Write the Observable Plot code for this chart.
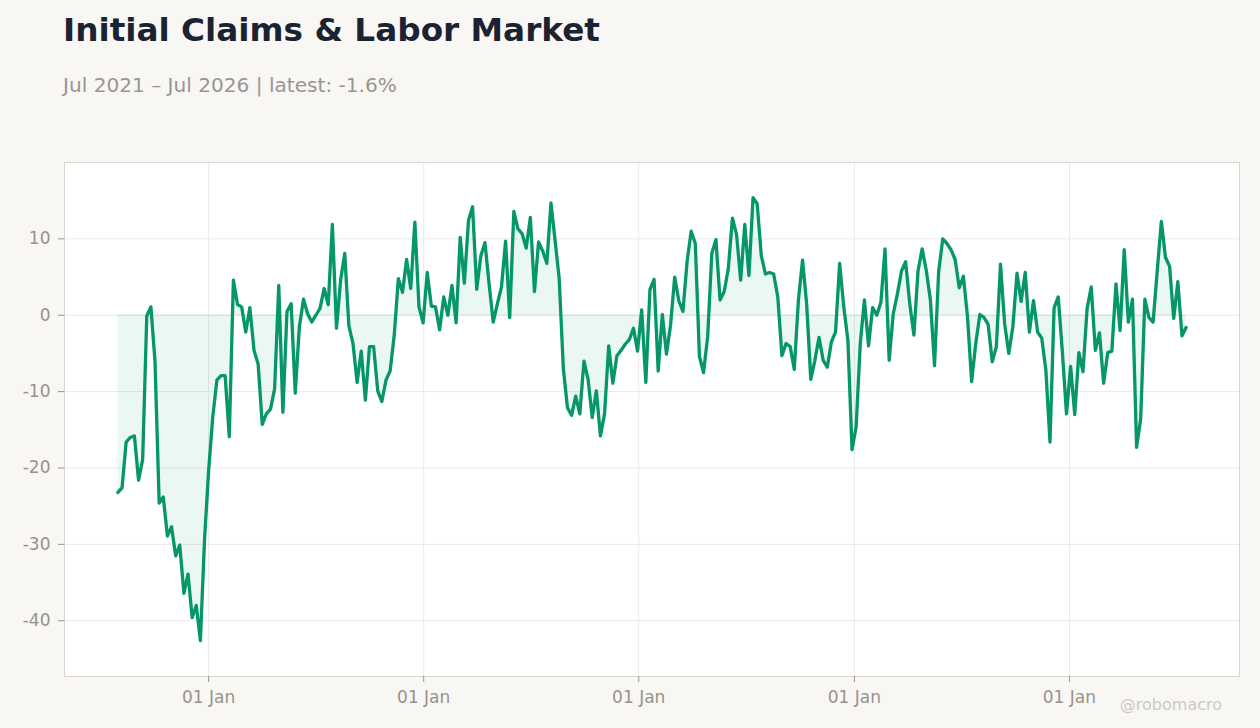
<!DOCTYPE html>
<html>
<head>
<meta charset="utf-8">
<script src="https://cdn.jsdelivr.net/npm/d3@7"></script>
<script src="https://cdn.jsdelivr.net/npm/@observablehq/plot@0.6"></script>
<style>
  html, body { margin: 0; padding: 0; background: #f8f7f4; overflow: hidden; }
  body { width: 1260px; height: 728px; position: relative; font-family: "DejaVu Sans", sans-serif; }
  #title { position: absolute; left: 63px; top: 11px; font-size: 32.7px; font-weight: bold; color: #1b2333; line-height: 39px; white-space: nowrap; }
  #subtitle { position: absolute; left: 63px; top: 73px; font-size: 20.1px; color: #9a958f; line-height: 24px; white-space: nowrap; }
  #chart { position: absolute; left: 0; top: 110px; }
  #credit { position: absolute; right: 38px; top: 695px; font-size: 16px; color: #cdc9c3; line-height: 19px; white-space: nowrap; }
</style>
</head>
<body>
<div id="title">Initial Claims &amp; Labor Market</div>
<div id="subtitle">Jul 2021 – Jul 2026 | latest: -1.6%</div>
<div id="chart"></div>
<div id="credit">@robomacro</div>
<script>
// Weekly series (YoY % change), first week ending 2021-07-31
const startDate = "2021-07-31";
const changePart1 = [-23.2, -22.6, -16.6, -16.0, -15.8, -21.6, -18.9, -0.1, 1.1, -6.1, -24.6, -23.8, -28.9, -27.7, -31.5, -30.1, -36.4, -33.9, -39.6, -38.0, -42.6, -29.4, -20.3, -13.3, -8.5, -7.9, -7.9, -15.9, 4.6, 1.4, 1.1, -2.2, 1.0, -4.6, -6.4, -14.3, -12.9, -12.3, -9.6, 3.9, -12.7, 0.5, 1.5];
const changePart2 = [-10.2, -1.5, 2.1, 0.2, -0.9, 0.0, 0.9, 3.5, 1.4, 11.9, -1.7, 4.6, 8.1, -1.4, -3.7, -8.8, -4.7, -11.1, -4.1, -4.1, -9.9, -11.3, -8.5, -7.3, -2.6, 4.8, 3.0, 7.3, 3.5, 12.2, 1.1, -1.0, 5.6, 1.2, 1.1, -1.9, 2.4, 0.0, 3.9, -1.0, 10.2, 4.2, 12.4];
const changePart3 = [14.2, 3.4, 7.8, 9.5, 4.1, -0.9, 1.5, 3.7, 9.7, -0.3, 13.6, 11.3, 10.7, 8.8, 12.8, 3.1, 9.6, 8.4, 6.8, 14.7, 9.8, 4.8, -7.0, -12.1, -13.1, -10.6, -12.9, -6.0, -8.4, -13.4, -9.9, -15.8, -12.9, -4.0, -8.9, -5.3, -4.6, -3.8, -3.2, -1.7, -4.7, 0.7, -8.8, 3.4];
const changePart4 = [4.7, -7.3, 0.1, -5.1, -1.3, 5.0, 1.9, 0.5, 7.0, 11.0, 9.4, -5.4, -7.5, -2.8, 8.1, 9.9, 2.0, 3.1, 6.1, 12.7, 10.6, 4.6, 11.9, 5.2, 15.4, 14.6, 7.8, 5.4, 5.6, 5.4, 2.4, -5.3, -3.7, -4.1, -7.1, 2.0, 7.2, 1.5, -8.4, -5.9, -2.9, -5.9, -6.8];
const changePart5 = [-3.5, -2.2, 6.8, 1.1, -3.3, -17.6, -14.6, -3.7, 2.0, -4.0, 1.0, 0.0, 1.7, 8.7, -5.9, 0.2, 2.8, 5.8, 7.0, 1.5, -2.6, 5.8, 8.7, 5.9, 2.0, -6.6, 5.7, 10.0, 9.4, 8.6, 7.3, 3.6, 5.1, -0.2, -8.7, -3.7, 0.1, -0.3, -1.2, -6.1, -4.1, 6.7, -1.1, -5.0];
const changePart6 = [-1.5, 5.5, 1.8, 5.6, -2.2, 1.9, -2.2, -3.0, -7.2, -16.6, 1.0, 2.4, -4.8, -12.9, -6.7, -13.0, -4.9, -7.4, 0.9, 3.7, -4.6, -2.3, -8.9, -4.9, -4.7, 4.1, -2.0, 8.6, -0.9, 2.1, -17.3, -13.5, 2.1, -0.3, -0.9, 5.8, 12.3, 7.6, 6.4, -0.4, 4.4, -2.7, -1.6];
const yTicks = [-40, -30, -20, -10, 0, 10];
const xTickLabelFormat = "%d %b";

const values = [...changePart1, ...changePart2, ...changePart3, ...changePart4, ...changePart5, ...changePart6];
const t0 = new Date(startDate + "T00:00:00Z");
const data = values.map((v, i) => ({ date: d3.utcDay.offset(t0, 7 * i), value: v }));

const first = data[0].date, last = data[data.length - 1].date;
const pad = (last - first) * 0.05;
const xDomain = [new Date(+first - pad), new Date(+last + pad)];
const xTicks = d3.utcYear.range(xDomain[0], xDomain[1]);

const green = "#059669";

const chart = Plot.plot({
  width: 1260,
  height: 618,
  marginTop: 52,
  marginBottom: 52,
  marginLeft: 64,
  marginRight: 21,
  style: { fontFamily: "DejaVu Sans", fontSize: "17px", color: "#97928c", background: "transparent", overflow: "visible" },
  x: { type: "utc", domain: xDomain },
  y: { domain: [-47.3, 20] },
  marks: [
    Plot.frame({ fill: "white", stroke: null }),
    Plot.gridY(yTicks, { stroke: "#e9e9e9", strokeOpacity: 1 }),
    Plot.gridX(xTicks, { stroke: "#e9e9e9", strokeOpacity: 1 }),
    Plot.areaY(data, { x: "date", y1: 0, y2: "value", fill: green, fillOpacity: 0.08 }),
    Plot.ruleY([0], { x1: first, x2: last, stroke: green, strokeOpacity: 0.12 }),
    Plot.lineY(data, { x: "date", y: "value", stroke: green, strokeWidth: 3.3, strokeLinejoin: "round" }),
    Plot.frame({ stroke: "#dcd7ce", strokeOpacity: 1 }),
    Plot.axisY(yTicks, { tickSize: 6, tickPadding: 8, tickFormat: d => `${d}`, stroke: "#9a958f", label: null, fill: "#97928c" }),
    Plot.axisX(xTicks, { tickSize: 6, tickPadding: 8, tickFormat: d3.utcFormat(xTickLabelFormat), stroke: "#9a958f", label: null, fill: "#97928c" })
  ]
});
document.getElementById("chart").appendChild(chart);
</script>
</body>
</html>
